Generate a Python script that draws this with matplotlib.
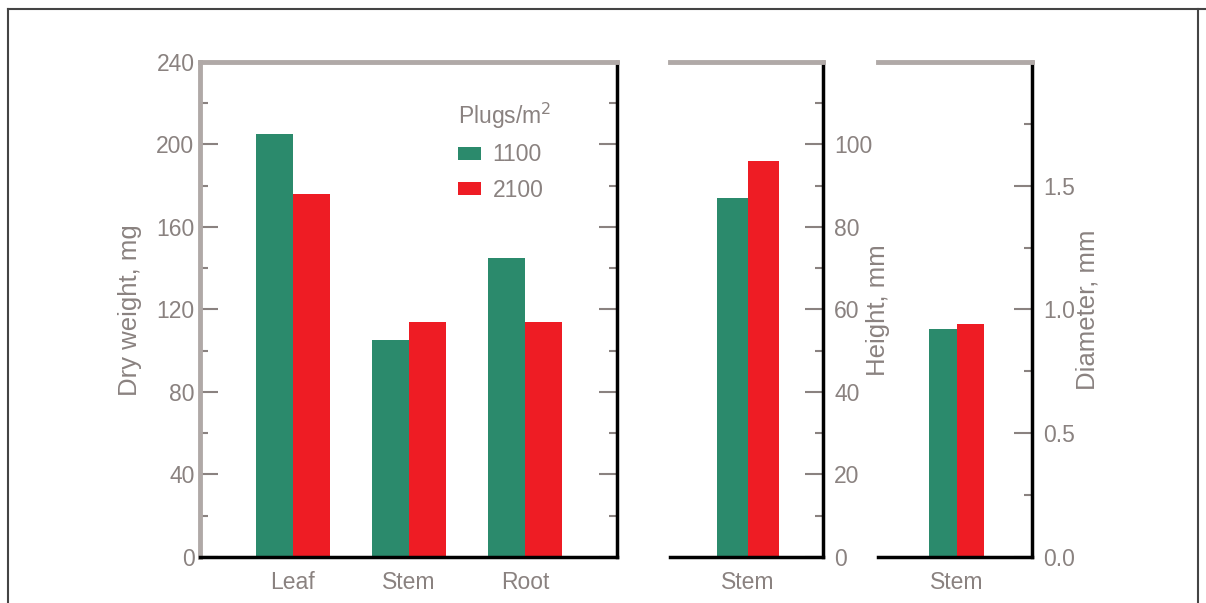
import matplotlib
matplotlib.use("Agg")
import matplotlib.pyplot as plt
from matplotlib.ticker import MultipleLocator
from matplotlib.lines import Line2D

plt.rcParams['font.family'] = ['Liberation Sans', 'DejaVu Sans']

# data
parts = ['Leaf', 'Stem', 'Root']
weight_1100 = [205, 105, 145]
weight_2100 = [176, 114, 114]
stem = ['Stem']
height_1100 = [87]
height_2100 = [96]
diam_1100 = [0.92]
diam_2100 = [0.94]
densities = ['1100', '2100']

green = '#2b8a6c'
red = '#ee1c24'
grey_txt = '#8a8280'
grey_line = '#b0a9a7'
fs = 16.5

fig = plt.figure(figsize=(12.06, 6.03), dpi=100)

# outer frame
for xs, ys in [([0.0066, 0.0066], [0, 0.985]), ([0.0066, 1.0], [0.985, 0.985]),
               ([0.9934, 0.9934], [0, 0.985])]:
    fig.add_artist(Line2D(xs, ys, transform=fig.transFigure, color='#444444', lw=1.5))

ax1 = fig.add_axes([0.1658, 0.0763, 0.3458, 0.8209])
ax2 = fig.add_axes([0.5556, 0.0763, 0.1269, 0.8209])
ax3 = fig.add_axes([0.7280, 0.0763, 0.1277, 0.8209])


def style(ax, left_spine):
    ax.spines['top'].set_color(grey_line)
    ax.spines['top'].set_linewidth(3.5)
    ax.spines['bottom'].set_color('black')
    ax.spines['bottom'].set_linewidth(2.5)
    ax.spines['right'].set_color('black')
    ax.spines['right'].set_linewidth(2.5)
    if left_spine:
        ax.spines['left'].set_color(grey_line)
        ax.spines['left'].set_linewidth(3.5)
    else:
        ax.spines['left'].set_visible(False)
    ax.tick_params(axis='y', which='both', direction='in', color=grey_txt, width=1.5,
                   labelcolor=grey_txt, labelsize=fs)
    ax.tick_params(axis='y', which='major', length=13)
    ax.tick_params(axis='y', which='minor', length=6)
    ax.tick_params(axis='x', length=0, labelcolor=grey_txt, labelsize=fs, pad=10)


# panel 1: dry weight
x = list(range(len(parts)))
w = 0.32
ax1.bar([i - w / 2 for i in x], weight_1100, w, color=green, label=densities[0])
ax1.bar([i + w / 2 for i in x], weight_2100, w, color=red, label=densities[1])
ax1.set_xlim(-0.80, 2.79)
ax1.set_ylim(0, 240)
ax1.set_xticks(x)
ax1.set_xticklabels(parts)
ax1.yaxis.set_major_locator(MultipleLocator(40))
ax1.yaxis.set_minor_locator(MultipleLocator(20))
style(ax1, True)
ax1.tick_params(axis='y', which='both', right=True, labelright=False, pad=4)
ax1.legend(title='Plugs/m$^2$', loc='upper left', bbox_to_anchor=(0.619, 0.922),
           frameon=False, borderpad=0, borderaxespad=0, fontsize=fs, title_fontsize=fs,
           alignment='left', handlelength=1.0, handleheight=0.5,
           handletextpad=0.5, labelspacing=0.55, labelcolor=grey_txt)
ax1.get_legend().get_title().set_color(grey_txt)

# panel 2: height
w2 = 0.31
ax2.bar([-w2 / 2], height_1100, w2, color=green)
ax2.bar([w2 / 2], height_2100, w2, color=red)
ax2.set_xlim(-0.78, 0.75)
ax2.set_ylim(0, 120)
ax2.set_xticks([0])
ax2.set_xticklabels(stem)
ax2.yaxis.set_major_locator(MultipleLocator(20))
ax2.yaxis.set_minor_locator(MultipleLocator(10))
style(ax2, False)
ax2.yaxis.tick_right()
ax2.tick_params(axis='y', which='both', direction='in', pad=8)
ax2.set_yticks([0, 20, 40, 60, 80, 100])

# panel 3: diameter
w3 = 0.275
ax3.bar([-w3 / 2], diam_1100, w3, color=green)
ax3.bar([w3 / 2], diam_2100, w3, color=red)
ax3.set_xlim(-0.79, 0.75)
ax3.set_ylim(0, 2.0)
ax3.set_xticks([0])
ax3.set_xticklabels(stem)
ax3.yaxis.set_major_locator(MultipleLocator(0.5))
ax3.yaxis.set_minor_locator(MultipleLocator(0.25))
style(ax3, False)
ax3.yaxis.tick_right()
ax3.tick_params(axis='y', which='both', direction='in', pad=8)
ax3.set_yticks([0.0, 0.5, 1.0, 1.5])
ax3.set_yticklabels(['0.0', '0.5', '1.0', '1.5'])

# axis titles
fig.text(130 / 1206, 1 - 310 / 603, 'Dry weight, mg', rotation=90, ha='center',
         va='center', color=grey_txt, fontsize=fs + 2)
fig.text(878 / 1206, 1 - 310 / 603, 'Height, mm', rotation=90, ha='center',
         va='center', color=grey_txt, fontsize=fs + 2)
fig.text(1088 / 1206, 1 - 310 / 603, 'Diameter, mm', rotation=90, ha='center',
         va='center', color=grey_txt, fontsize=fs + 2)

fig.savefig('out.png', dpi=100)
